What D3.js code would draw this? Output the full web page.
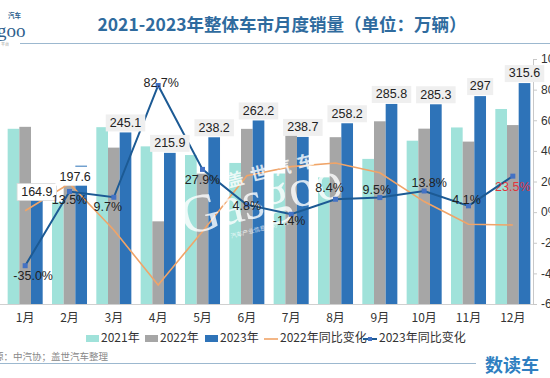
<!DOCTYPE html>
<html><head><meta charset="utf-8">
<script src="https://cdn.jsdelivr.net/npm/d3@7"></script>
<style>
html,body{margin:0;padding:0;background:#fff;overflow:hidden;}
svg{display:block;}
</style></head>
<body>
<svg id="c" width="550" height="378"></svg>
<script>
const months = ['1月','2月','3月','4月','5月','6月','7月','8月','9月','10月','11月','12月'];
const sales2021 = [250.3,145.5,252.6,225.2,212.8,201.5,186.4,180.9,207.3,233.3,252.2,278.6];
const sales2022 = [253.1,173.7,223.4,118.1,186.2,250.2,242.0,238.3,261.0,250.5,232.0,255.6];
const sales2023 = [164.9,197.6,245.1,215.9,238.2,262.2,238.7,258.2,285.8,285.3,297,315.6];
const yoy2022 = [0.9,18.7,-11.7,-47.6,-12.6,23.8,29.7,32.1,25.7,6.9,-7.9,-8.4];
const yoy2023 = [-35.0,13.5,9.7,82.7,27.9,4.8,-1.4,8.4,9.5,13.8,4.1,23.5];
const pctTicks = [-60,-40,-20,0,20,40,60,80,100];
const seriesNames = ['2021年','2022年','2023年'];
const lineNames = ['2022年同比变化','2023年同比变化'];

const CJK = "'Noto Sans CJK SC','Noto Sans',sans-serif";
const NUM = "'Liberation Sans',Arial,sans-serif";
const colors = ['#a0e2da','#a6a6a6','#2e73b8'];
const orange = '#f0a468', lineBlue = '#1c5a94', markBlue = '#4472c4';

const svg = d3.select('#c');
const plotTop = 59, plotBottom = 304;

const x0 = d3.scaleBand().domain(months).range([3,535]).paddingInner(0.21).paddingOuter(0.105);
const x1 = d3.scaleBand().domain(seriesNames).range([0, x0.bandwidth()]);
const yL = d3.scaleLinear().domain([0,350]).range([plotBottom, plotTop]);
const yR = d3.scaleLinear().domain([-60,100]).range([plotBottom, plotTop]);

// title
svg.append('text').attr('x',282).attr('y',31).attr('text-anchor','middle')
  .attr('font-family',CJK).attr('font-weight','bold').attr('font-size',17.5)
  .attr('fill','#2f6b9e').text('2021-2023年整体车市月度销量（单位：万辆）');
svg.append('line').attr('x1',20).attr('x2',550).attr('y1',43.5).attr('y2',43.5)
  .attr('stroke','#9cb8cf').attr('stroke-width',1);
// logo
svg.append('text').attr('x',8).attr('y',18).attr('font-family',CJK).attr('font-size',6.5)
  .attr('fill','#2f5f8e').attr('font-weight','bold').text('汽车');
svg.append('text').attr('x',-3).attr('y',37).attr('font-family',"'Liberation Serif',serif").attr('font-size',19)
  .attr('fill','#2f5f8e').text('goo');
svg.append('text').attr('x',1).attr('y',46).attr('font-family',CJK).attr('font-size',4)
  .attr('fill','#999').text('平台');

// bars
const series = [sales2021, sales2022, sales2023];
const g = svg.append('g');
series.forEach((arr,si)=>{
  g.selectAll('.b'+si).data(arr).enter().append('rect')
    .attr('x',(d,i)=>x0(months[i])+x1(seriesNames[si]))
    .attr('width',x1.bandwidth())
    .attr('y',d=>yL(d)).attr('height',d=>plotBottom-yL(d))
    .attr('fill',colors[si]);
});

// axes lines
svg.append('line').attr('x1',0).attr('x2',533).attr('y1',plotBottom+0.5).attr('y2',plotBottom+0.5).attr('stroke','#d0d0d0');
const ra = svg.append('g').attr('transform','translate(533,0)')
  .call(d3.axisRight(yR).tickValues(pctTicks).tickSize(4).tickFormat(d=>d+'%'));
ra.select('.domain').attr('stroke','#c8c8c8');
ra.selectAll('.tick line').attr('stroke','#c8c8c8');
ra.selectAll('.tick text').attr('font-family',NUM).attr('font-size',12).attr('fill','#333').attr('x',8);

// month labels
svg.selectAll('.ml').data(months).enter().append('text')
  .attr('x',d=>x0(d)+x0.bandwidth()/2).attr('y',322).attr('text-anchor','middle')
  .attr('font-family',CJK).attr('font-size',12).attr('fill','#333').text(d=>d);

// lines
const cx = i => x0(months[i]) + x0.bandwidth()/2;
const line = d3.line().x((d,i)=>cx(i)).y(d=>yR(d));
svg.append('path').datum(yoy2022).attr('d',line).attr('fill','none').attr('stroke',orange).attr('stroke-width',1.6);

// watermark
const wm = svg.append('g').attr('transform','translate(255,218) rotate(-14)').attr('opacity',0.8);
wm.append('text').attr('x',-72).attr('y',0).attr('font-family',"'Liberation Serif',serif").attr('font-size',54)
  .attr('fill','#fff').text('Gasgoo');
wm.append('text').attr('x',-18).attr('y',-36).attr('font-family',CJK).attr('font-size',17).attr('font-weight','bold')
  .attr('fill','#fff').attr('letter-spacing',7).text('盖世汽车');
wm.append('text').attr('x',-28).attr('y',14).attr('font-family',CJK).attr('font-size',6)
  .attr('fill','#fff').text('汽车产业信息服务平台');

svg.append('path').datum(yoy2023).attr('d',line).attr('fill','none').attr('stroke',lineBlue).attr('stroke-width',2);
svg.selectAll('.mk').data(yoy2023).enter().append('rect')
  .attr('x',(d,i)=>cx(i)-2.5).attr('y',d=>yR(d)-2.5).attr('width',5).attr('height',5).attr('fill',markBlue);

// 2023 value labels
const barLabelDy = {0: 4, 1: 12};
sales2023.forEach((v,i)=>{
  const bx = x0(months[i]) + x1('2023年') + x1.bandwidth()/2 + (i===1?-6:0);
  const by = yL(v) + (barLabelDy[i] !== undefined ? barLabelDy[i] : -9);
  const t = String(v);
  const w = t.length*6.7+6;
  const boxTop = i===1 ? by-11 : by-9;
  svg.append('rect').attr('x',bx-w/2).attr('y',boxTop).attr('width',w).attr('height',by+8-boxTop)
    .attr('fill', i<=1 ? '#ffffff' : '#efefef').attr('stroke', i===0 ? '#d8d8d8':'none').attr('stroke-width',0.8);
  svg.append('text').attr('x',bx).attr('y',by).attr('text-anchor','middle').attr('dominant-baseline','middle')
    .attr('font-family',NUM).attr('font-size',12.5).attr('fill','#222').text(t);
});

// yoy 2023 labels
const pctOff = [[8,11],[0,9],[-6,10],[3,-2],[0,11],[0,2],[-2,7],[-6,-11],[-3,-7],[5,-7],[-2,-5],[0,12]];
yoy2023.forEach((v,i)=>{
  svg.append('text').attr('x',cx(i)+pctOff[i][0]).attr('y',yR(v)+pctOff[i][1])
    .attr('text-anchor','middle').attr('dominant-baseline','middle')
    .attr('font-family',NUM).attr('font-size',12.5).attr('fill', i===11 ? '#e0353d' : '#222')
    .text(v.toFixed(1)+'%');
});

// legend
const lg = svg.append('g').attr('font-family',CJK).attr('font-size',12).attr('fill','#333');
const legItems = [
  {x:86,type:'rect',c:colors[0],t:seriesNames[0]},
  {x:145,type:'rect',c:colors[1],t:seriesNames[1]},
  {x:205,type:'rect',c:colors[2],t:seriesNames[2]},
  {x:264,type:'line',c:orange,t:lineNames[0]},
  {x:363,type:'mline',c:lineBlue,t:lineNames[1]}
];
legItems.forEach(it=>{
  if(it.type==='rect'){
    lg.append('rect').attr('x',it.x).attr('y',335).attr('width',13).attr('height',7).attr('fill',it.c);
  } else {
    lg.append('line').attr('x1',it.x).attr('x2',it.x+14).attr('y1',339).attr('y2',339).attr('stroke',it.c).attr('stroke-width',it.type==='line'?1.6:2);
    if(it.type==='mline') lg.append('rect').attr('x',it.x+5).attr('y',337).attr('width',4).attr('height',4).attr('fill',markBlue);
  }
  lg.append('text').attr('x',it.x+(it.type==='rect'?15:16)).attr('y',339).attr('dominant-baseline','middle').text(it.t);
});

// footer
svg.append('text').attr('x',-6).attr('y',360).attr('font-family',CJK).attr('font-size',9.5).attr('fill','#888').text('源：中汽协；盖世汽车整理');
svg.append('line').attr('x1',0).attr('x2',476).attr('y1',363.5).attr('y2',363.5).attr('stroke','#9cb8cf');
svg.append('text').attr('x',485).attr('y',372).attr('font-family',CJK).attr('font-size',18).attr('font-weight','bold').attr('fill','#2f7fc1').text('数读车');
</script>
</body></html>
